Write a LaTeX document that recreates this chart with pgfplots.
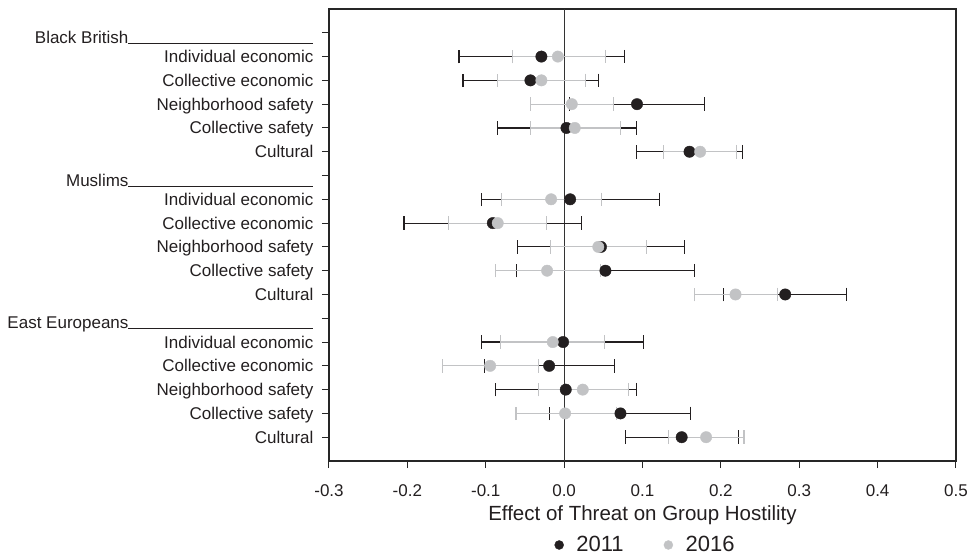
\documentclass[border=0pt]{standalone}
\usepackage{fontspec}
\setmainfont{Liberation Sans}
\usepackage{pgfplots}
\usepackage{pgfplotstable}
\pgfplotsset{compat=1.18}

\definecolor{dark}{HTML}{231F20}
\definecolor{light}{HTML}{C2C3C5}

% row, estimate, lower and upper bound of the interval
\pgfplotstableread{
y x lo hi
2 -0.029 -0.134 0.0766
3 -0.043 -0.129 0.044
4 0.093 0.0065 0.1795
5 0.003 -0.0847 0.0919
6 0.160 0.0919 0.228
8 0.0077 -0.1055 0.1213
9 -0.091 -0.2042 0.0226
10 0.047 -0.0596 0.1532
11 0.0527 -0.0604 0.1668
12 0.2821 0.2029 0.3603
14 -0.0013 -0.1055 0.1017
15 -0.0191 -0.1017 0.0638
16 0.0021 -0.088 0.0928
17 0.0719 -0.0187 0.1612
18 0.150 0.0783 0.2225
}\yearA

\pgfplotstableread{
y x lo hi
2 -0.008 -0.066 0.053
3 -0.029 -0.0855 0.0277
4 0.0098 -0.0434 0.063
5 0.0136 -0.0434 0.0715
6 0.1736 0.127 0.2204
8 -0.0166 -0.0804 0.048
9 -0.0847 -0.1476 -0.0221
10 0.0436 -0.0175 0.1047
11 -0.0217 -0.0872 0.046
12 0.2187 0.166 0.2722
14 -0.0145 -0.0813 0.052
15 -0.0944 -0.1553 -0.0328
16 0.0238 -0.0323 0.0821
17 0.0013 -0.0613 0.0664
18 0.1812 0.1336 0.2294
}\yearB

\newcommand{\grp}[1]{\raisebox{-4.7pt}{#1\rule[-0.4pt]{185pt}{0.9pt}}}

\begin{document}
\begin{tikzpicture}
\begin{axis}[
    scale only axis,
    width=627pt, height=452pt,
    xmin=-0.3, xmax=0.5,
    ymin=0, ymax=19, y dir=reverse,
    xtick={-0.3,-0.2,-0.1,0,0.1,0.2,0.3,0.4,0.5},
    xticklabels={-0.3,-0.2,-0.1,0.0,0.1,0.2,0.3,0.4,0.5},
    ytick={1,...,18},
    yticklabels={\grp{Black British}, Individual economic, Collective economic, Neighborhood safety, Collective safety, Cultural,
        \grp{Muslims}, Individual economic, Collective economic, Neighborhood safety, Collective safety, Cultural,
        \grp{East Europeans}, Individual economic, Collective economic, Neighborhood safety, Collective safety, Cultural},
    tick align=outside,
    xtick pos=left, ytick pos=left,
    major tick length=7pt,
    tick style={black!85, line width=1pt},
    axis line style={black!85, line width=1.1pt},
    tick label style={font=\fontsize{17}{20}\selectfont, text=dark},
    xticklabel style={anchor=base, yshift=-28pt},
    yticklabel style={anchor=base east, yshift=-6pt, xshift=-5pt},
    xlabel={Effect of Threat on Group Hostility},
    xlabel style={font=\fontsize{20.5}{24}\selectfont, text=dark, at={(axis description cs:0.5,0)}, anchor=base, yshift=-59pt},
    legend columns=2,
    legend style={at={(0.5048,-0.1858)}, anchor=center, draw=none, fill=none,
        font=\fontsize{22}{25}\selectfont, text=dark,
        /tikz/every odd column/.append style={column sep=10.5pt},
        /tikz/every even column/.append style={column sep=38pt}},
]
    % zero line
    \addplot[forget plot, black!80, line width=1.1pt] coordinates {(0,0) (0,19)};

    % 2011 intervals and estimates
    \addplot[forget plot, only marks, mark=none,
        error bars/.cd, x dir=both, x explicit, error mark=|,
        error bar style={draw=dark, line width=1.2pt},
        error mark options={draw=dark, line width=1.2pt, mark size=6.8pt}]
        table[x=x, y=y, x error plus expr=\thisrow{hi}-\thisrow{x}, x error minus expr=\thisrow{x}-\thisrow{lo}] {\yearA};
    \addplot[only marks, color=dark, mark=*, mark size=5.7pt,
        legend image code/.code={\fill[dark] (0pt,0pt) circle (4.5pt);}]
        table[x=x, y=y] {\yearA};
    \addlegendentry{2011}

    % 2016 intervals and estimates
    \addplot[forget plot, only marks, mark=none,
        error bars/.cd, x dir=both, x explicit, error mark=|,
        error bar style={draw=light, line width=1.2pt},
        error mark options={draw=light, line width=1.2pt, mark size=6.8pt}]
        table[x=x, y=y, x error plus expr=\thisrow{hi}-\thisrow{x}, x error minus expr=\thisrow{x}-\thisrow{lo}] {\yearB};
    \addplot[only marks, color=light, mark=*, mark size=5.7pt,
        legend image code/.code={\fill[light] (0pt,0pt) circle (4.5pt);}]
        table[x=x, y=y] {\yearB};
    \addlegendentry{2016}
\end{axis}
\pgfresetboundingbox
\path (-329pt,-95pt) rectangle (642pt,461pt);
\end{tikzpicture}
\end{document}
